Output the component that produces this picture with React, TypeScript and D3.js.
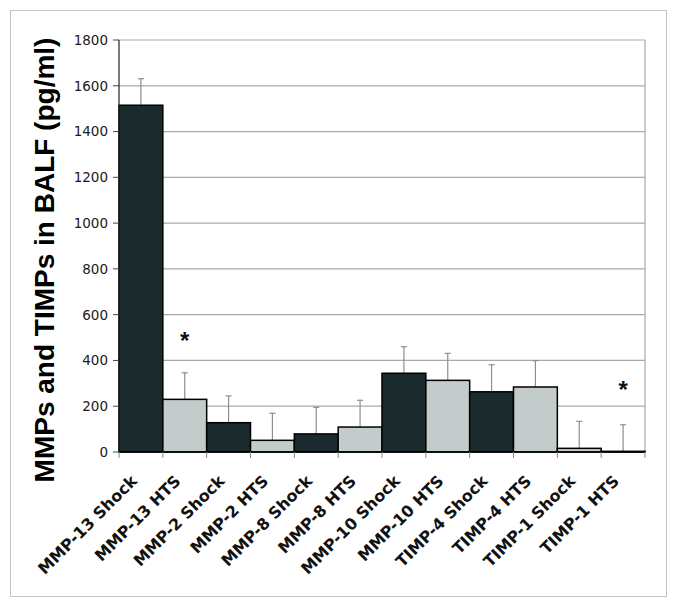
import * as d3 from "d3";

const categories = [
  "MMP-13 Shock",
  "MMP-13 HTS",
  "MMP-2 Shock",
  "MMP-2 HTS",
  "MMP-8 Shock",
  "MMP-8 HTS",
  "MMP-10 Shock",
  "MMP-10 HTS",
  "TIMP-4 Shock",
  "TIMP-4 HTS",
  "TIMP-1 Shock",
  "TIMP-1 HTS",
];
const means = [1515, 230, 128, 51, 79, 109, 344, 313, 263, 284, 16, 3];
const upperErr = [1631, 346, 245, 169, 195, 226, 460, 431, 381, 399, 134, 119];
// fill group per bar as drawn in the source (TIMP-1 pair is swapped)
const shade = ["d", "l", "d", "l", "d", "l", "d", "l", "d", "l", "l", "d"];
const significant = [false, true, false, false, false, false, false, false, false, false, false, true];
const yTicks = [0, 200, 400, 600, 800, 1000, 1200, 1400, 1600, 1800];

const width = 675;
const height = 607;
const left = 119;
const right = 645;
const top = 40;
const bottom = 452;

const dark = "#1b2a2d";
const light = "#c3cbcb";

export default function App() {
  const x = d3.scaleBand<string>().domain(categories).range([left, right]).padding(0);
  const y = d3.scaleLinear().domain([0, 1800]).range([bottom, top]);
  const bw = x.bandwidth();

  return (
    <svg
      width={width}
      height={height}
      style={{ position: "absolute", left: 0, top: 0, background: "#fff" }}
    >
      <rect x={10.5} y={10.5} width={656} height={586} fill="#fff" stroke="#c4c4c4" />

      {/* grid */}
      {yTicks.slice(1).map((t) => (
        <line key={t} x1={left} x2={right} y1={y(t)} y2={y(t)} stroke="#a3abab" strokeWidth={1.2} />
      ))}
      <line x1={right} x2={right} y1={top} y2={bottom} stroke="#a3abab" strokeWidth={1.2} />

      {/* error bars */}
      {categories.map((c, i) => {
        const cx = (x(c) as number) + bw / 2;
        return (
          <g key={"e" + c} stroke="#8a8f8f" strokeWidth={1.2}>
            <line x1={cx} x2={cx} y1={y(means[i])} y2={y(upperErr[i])} />
            <line x1={cx - 3} x2={cx + 3} y1={y(upperErr[i])} y2={y(upperErr[i])} />
          </g>
        );
      })}

      {/* bars */}
      {categories.map((c, i) => (
        <rect
          key={c}
          x={x(c) as number}
          y={y(means[i])}
          width={bw}
          height={y(0) - y(means[i])}
          fill={shade[i] === "d" ? dark : light}
          stroke="#000"
          strokeWidth={1.5}
        />
      ))}

      {/* axes */}
      <line x1={left} x2={left} y1={top} y2={bottom} stroke="#222" strokeWidth={1.2} />
      <line x1={left} x2={right} y1={bottom} y2={bottom} stroke="#000" strokeWidth={1.5} />
      {yTicks.map((t) => (
        <g key={"yt" + t}>
          <line x1={left - 6} x2={left} y1={y(t)} y2={y(t)} stroke="#444" />
          <text
            x={left - 11}
            y={y(t)}
            dy="0.36em"
            textAnchor="end"
            fontFamily="DejaVu Sans, Verdana, sans-serif"
            fontSize={13.5}
            fill="#1a1a1a"
          >
            {t}
          </text>
        </g>
      ))}
      {d3.range(categories.length + 1).map((i) => {
        const tx = left + i * bw;
        return <line key={"xt" + i} x1={tx} x2={tx} y1={bottom} y2={bottom + 6} stroke="#888" />;
      })}
      {categories.map((c) => {
        const cx = (x(c) as number) + bw / 2;
        return (
          <text
            key={"xl" + c}
            transform={`translate(${cx - 3},${bottom + 30}) rotate(-45)`}
            textAnchor="end"
            fontFamily="DejaVu Sans, Verdana, sans-serif"
            fontWeight="bold"
            fontSize={16}
            fill="#111"
          >
            {c}
          </text>
        );
      })}

      {/* significance markers */}
      {categories.map((c, i) =>
        significant[i] ? (
          <text
            key={"s" + c}
            x={(x(c) as number) + bw / 2}
            y={i === 1 ? 349 : 398}
            textAnchor="middle"
            fontFamily="Liberation Sans, Arial, sans-serif"
            fontWeight="bold"
            fontSize={24}
            fill="#111"
          >
            *
          </text>
        ) : null
      )}

      {/* y title */}
      <text
        transform={`translate(54,260) rotate(-90)`}
        textAnchor="middle"
        fontFamily="Liberation Sans, Arial, sans-serif"
        fontWeight="bold"
        fontSize={28}
        fill="#000"
      >
        MMPs and TIMPs in BALF (pg/ml)
      </text>
    </svg>
  );
}
